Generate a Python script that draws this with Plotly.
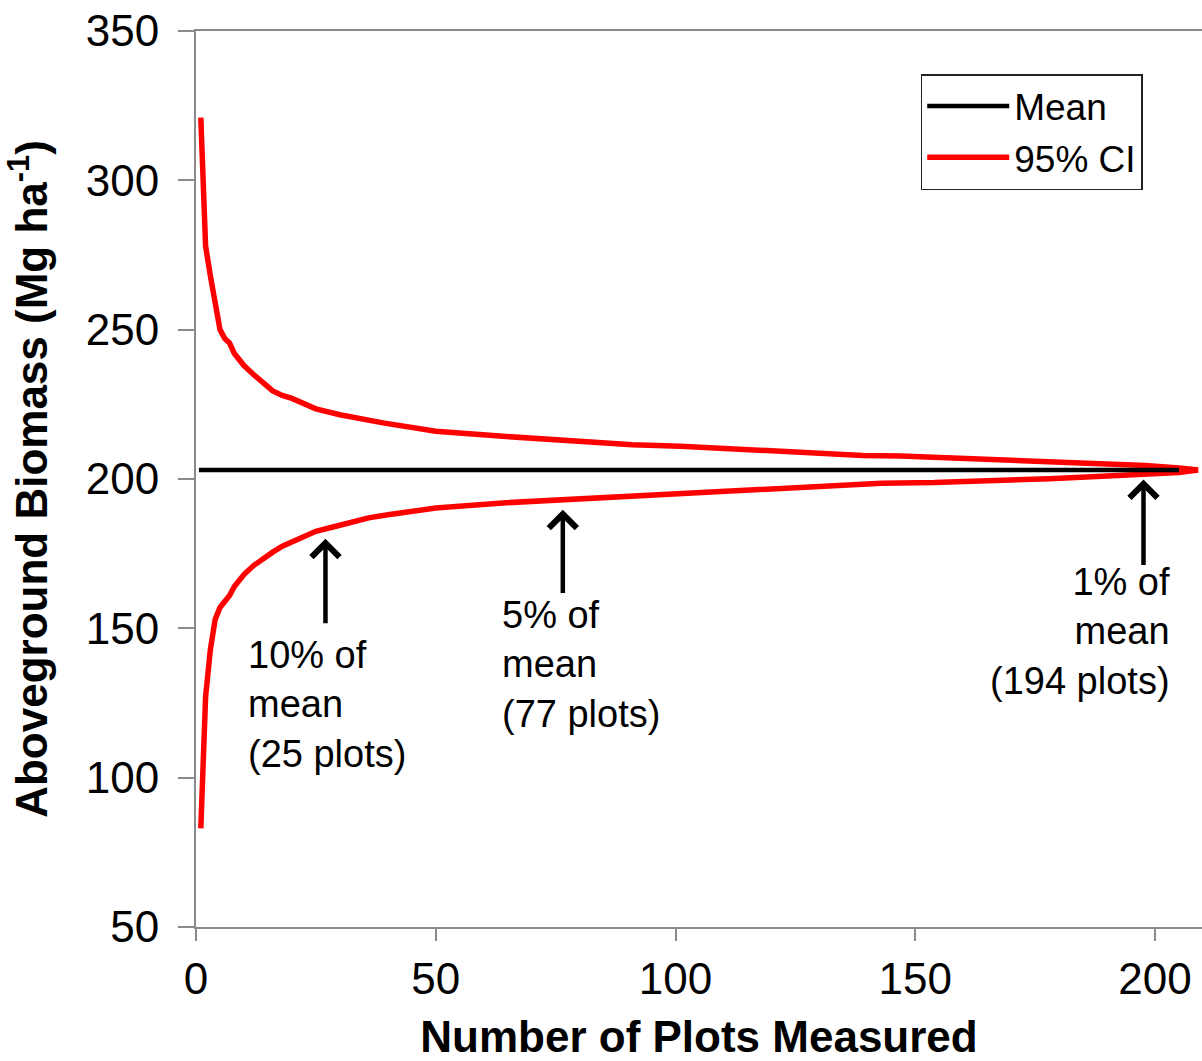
import plotly.graph_objects as go

# ---- data ----
upper_x = [1, 2, 3, 4, 5, 6, 7, 8, 9, 10, 12, 14, 16, 18, 20, 25, 30, 39, 50, 64, 81, 91, 101,
           111, 119, 130, 139, 147, 152, 163, 175, 188, 198, 205, 209]
upper_y = [321, 278, 268, 259, 250, 247, 245.5, 242, 240, 238, 235, 232, 229.5, 228, 227, 223.5,
           221.5, 218.8, 216, 214.3, 212.4, 211.5, 211, 210.1, 209.3, 208.5, 207.9, 207.7, 207.4,
           206.5, 205.7, 205, 204.5, 203.7, 203]

lower_x = [1, 2, 3, 4, 5, 6, 7, 8, 9, 10, 12, 14, 16, 18, 20, 25, 30, 36, 40, 50, 64, 80, 92,
           104, 113, 122, 132, 143, 154, 165, 178, 189, 198, 205, 209]
lower_y = [83, 127, 143, 153, 157, 159, 161, 164, 166, 168, 171, 173.5, 175.5, 177.5, 179, 182.5,
           184.5, 187, 188, 190.3, 192, 193.4, 194.2, 195.1, 196.1, 197, 197.5, 198.6, 198.8,
           199.2, 200.1, 200.9, 201.4, 202.2, 203]

mean_x = [0.6, 205]
mean_y = [203, 203]

x_ticks = [0, 50, 100, 150, 200]
y_ticks = [50, 100, 150, 200, 250, 300, 350]

# annotation data: (arrow x, arrow head y, arrow tail y)
arrow_x = [27, 76.5, 197.6]
arrow_head = [180, 189.7, 199.8]
arrow_tail = [151.2, 161.3, 170.7]
label_text = ["10% of<br>mean<br>(25 plots)", "5% of<br>mean<br>(77 plots)", "1% of<br>mean<br>(194 plots)"]
label_x = [10.5, 63.5, 203.6]
label_y = [124.4, 137.8, 148.9]
label_anchor = ["left", "left", "right"]

FONT = "Liberation Sans, Arial, sans-serif"

fig = go.Figure()
fig.add_trace(go.Scatter(x=upper_x, y=upper_y, mode="lines", name="95% CI",
                         line=dict(color="#FF0000", width=5.5), legendgroup="ci", legendrank=2))
fig.add_trace(go.Scatter(x=lower_x, y=lower_y, mode="lines", name="95% CI", showlegend=False,
                         line=dict(color="#FF0000", width=5.5), legendgroup="ci"))
fig.add_trace(go.Scatter(x=mean_x, y=mean_y, mode="lines", name="Mean",
                         line=dict(color="#000000", width=4.5), legendrank=1))

for ax_, h, t in zip(arrow_x, arrow_head, arrow_tail):
    fig.add_annotation(x=ax_, y=h, ax=ax_, ay=t, xref="x", yref="y", axref="x", ayref="y",
                       text="", showarrow=True, arrowhead=4, arrowsize=1.2, arrowwidth=4.5,
                       arrowcolor="#000000")

for txt, lx, ly, anc in zip(label_text, label_x, label_y, label_anchor):
    fig.add_annotation(x=lx, y=ly, xref="x", yref="y", text=txt, showarrow=False,
                       xanchor=anc, yanchor="middle", align=anc,
                       font=dict(family=FONT, size=38, color="#000000"))

fig.update_layout(
    width=1202, height=1061,
    margin=dict(l=196, r=0, t=31, b=134),
    paper_bgcolor="white", plot_bgcolor="white",
    font=dict(family=FONT, color="#000000"),
    showlegend=True,
    legend=dict(x=0.7204, y=0.952, xanchor="left", yanchor="top",
                bgcolor="white", bordercolor="#222222", borderwidth=1.5,
                font=dict(family=FONT, size=37, color="#000000"),
                itemwidth=82, tracegroupgap=0),
)

fig.update_xaxes(
    range=[0, 209.8], tickvals=x_ticks, ticktext=[str(v) for v in x_ticks],
    showline=True, linecolor="#8a8a8a", linewidth=2, mirror=True,
    ticks="outside", ticklen=12, tickwidth=2, tickcolor="#8a8a8a",
    showgrid=False, zeroline=False, automargin=False,
    tickfont=dict(family=FONT, size=44, color="#000000"), ticklabelstandoff=0,
    title=dict(text="<b>Number of Plots Measured</b>", standoff=21,
               font=dict(family=FONT, size=44, color="#000000")),
)
fig.update_yaxes(
    range=[50, 350], tickvals=y_ticks, ticktext=[str(v) for v in y_ticks],
    showline=True, linecolor="#8a8a8a", linewidth=2,
    ticks="outside", ticklen=16, tickwidth=2, tickcolor="#8a8a8a",
    showgrid=False, zeroline=False, automargin=False,
    tickfont=dict(family=FONT, size=44, color="#000000"), ticklabelstandoff=10,
    title=dict(text="<b>Aboveground Biomass (Mg ha<sup>-1</sup>)</b>", standoff=24,
               font=dict(family=FONT, size=44, color="#000000")),
)

fig.write_html("out.html")
